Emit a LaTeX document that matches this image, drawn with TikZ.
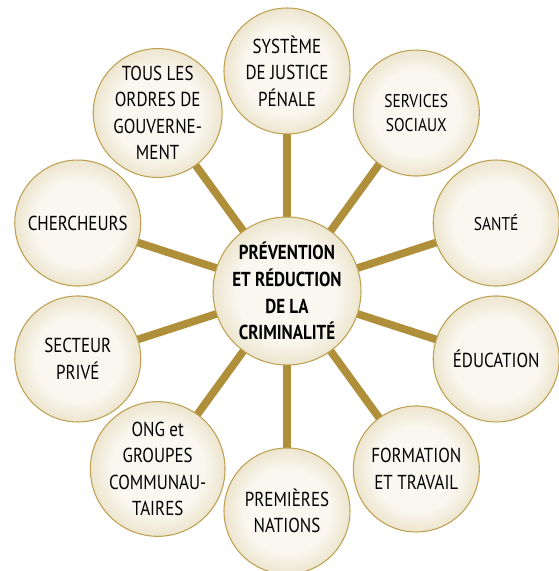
\documentclass[tikz,border=0pt]{standalone}
\usepackage{fontspec}
\setmainfont{PT Sans}[FakeStretch=0.84]
\usetikzlibrary{backgrounds}

\definecolor{spokegold}{RGB}{176,143,58}
\definecolor{rimgold}{RGB}{190,160,80}
\definecolor{discin}{RGB}{249,247,239}
\definecolor{discout}{RGB}{221,207,166}
% light middle, beige only near the rim (rim sits at about 35bp)
\pgfdeclareradialshading{discshade}{\pgfpoint{0bp}{0bp}}{%
  color(0bp)=(discin); color(17bp)=(discin); color(35bp)=(discout); color(50bp)=(discout)}

\begin{document}
\begin{tikzpicture}[
  font=\fontsize{11.5}{15}\selectfont,
  disc/.style={circle,draw=rimgold,line width=0.6pt,inner sep=0pt,align=center,
               shading=discshade,text=black},
  outer/.style={disc,minimum size=2.52cm},
  hub/.style={disc,minimum size=2.96cm,font=\fontsize{11.5}{15.2}\selectfont\bfseries},
  small/.style={font=\fontsize{10.5}{14}\selectfont},
  spoke/.style={line width=4.4pt,spokegold},
]
\useasboundingbox (-5.74,-5.6) rectangle (5.44,5.82);

%% ---- Hub ---------------------------------------------------------------------
\node[hub] (crime) at (0,0) {PRÉVENTION\\ET RÉDUCTION\\DE LA\\CRIMINALITÉ};

%% ---- Partners, every 36 degrees -----------------------------------------------
\node[outer] (justice)  at (90:4.4)   {SYSTÈME\\DE JUSTICE\\PÉNALE};
\node[outer,small] (social) at (54:4.4) {SERVICES\\SOCIAUX};
\node[outer,small] (sante)  at (18:4.4) {SANTÉ};
\node[outer] (educ)     at (-18:4.4)  {ÉDUCATION};
\node[outer] (travail)  at (-54:4.4)  {FORMATION\\ET TRAVAIL};
\node[outer] (nations)  at (-90:4.4)  {PREMIÈRES\\NATIONS};
\node[outer] (ong)      at (-126:4.4) {ONG et\\GROUPES\\COMMUNAU-\\TAIRES};
\node[outer] (prive)    at (-162:4.4) {SECTEUR\\PRIVÉ};
\node[outer] (cherche)  at (162:4.4)  {CHERCHEURS};
\node[outer] (gouv)     at (126:4.4)  {TOUS LES\\ORDRES DE\\GOUVERNE-\\MENT};

%% ---- Spokes behind the discs
\begin{scope}[on background layer]
  \foreach \p in {justice,social,sante,educ,travail,nations,ong,prive,cherche,gouv}
    \draw[spoke] (crime.center) -- (\p.center);
\end{scope}

\end{tikzpicture}
\end{document}
